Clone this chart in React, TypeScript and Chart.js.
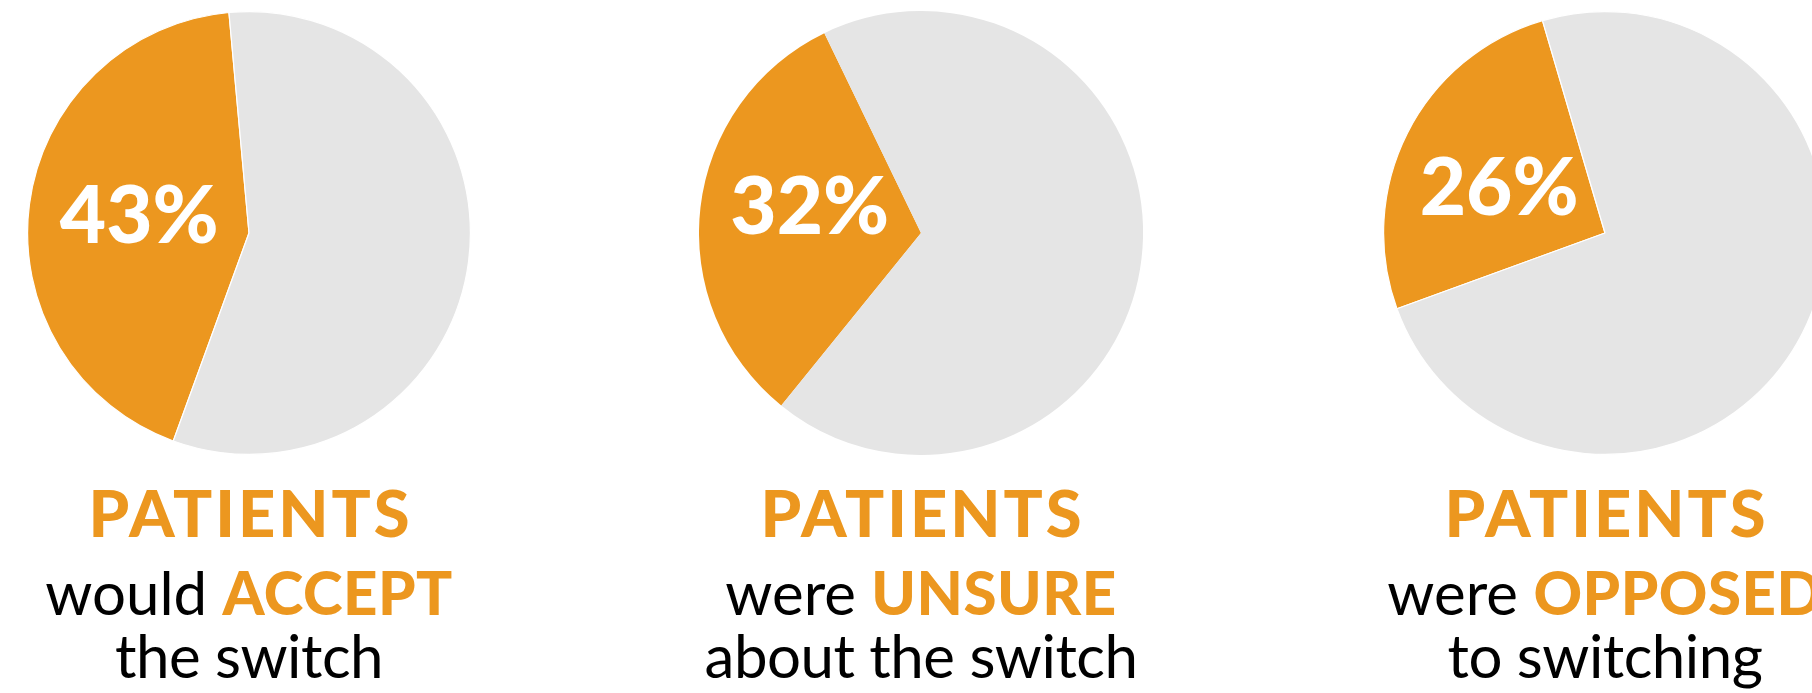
import React, { useEffect, useRef } from "react";
import { Chart, registerables } from "chart.js";

Chart.register(...registerables);

// ---- data ----
const sliceNames = ["Patients", "Others"];
const acceptValues = [43, 57];
const unsureValues = [32, 68];
const opposedValues = [26, 74];
const percentLabels = ["43%", "32%", "26%"];
const headline = "PATIENTS";
const verbs = ["would", "were", "were"];
const keywords = ["ACCEPT", "UNSURE", "OPPOSED"];
const tails = ["the switch", "about the switch", "to switching"];

const ORANGE = "#EC971F";
const GREY = "#E5E5E5";
const FONT = "Lato, 'Open Sans', sans-serif";

const SIZE = 444;
const CY = 232.5;

const panels = [
  { values: acceptValues, cx: 249, rotation: -160, border: 1.2, dx: 0, dy: 24 },
  { values: unsureValues, cx: 921, rotation: -141, border: 0, dx: -1, dy: 14 },
  { values: opposedValues, cx: 1605, rotation: -110, border: 1.2, dx: -7, dy: 32 },
];

const pctLabelPlugin = {
  id: "pctLabel",
  afterDatasetsDraw(chart: any, _args: any, opts: any) {
    const arc = chart.getDatasetMeta(0).data[0];
    if (!arc) return;
    const p = arc.tooltipPosition(false);
    const ctx = chart.ctx;
    ctx.save();
    ctx.font = `900 80px ${FONT}`;
    ctx.fillStyle = "#ffffff";
    ctx.textAlign = "center";
    ctx.textBaseline = "alphabetic";
    ctx.fillText(opts.text, p.x + opts.dx, p.y + opts.dy);
    ctx.restore();
  },
};

function Pie({ idx }: { idx: number }) {
  const ref = useRef<HTMLCanvasElement | null>(null);
  const panel = panels[idx];
  useEffect(() => {
    if (!ref.current) return;
    const chart = new Chart(ref.current, {
      type: "pie",
      data: {
        labels: sliceNames,
        datasets: [
          {
            data: panel.values,
            backgroundColor: [ORANGE, GREY],
            borderColor: "#ffffff",
            borderWidth: panel.border,
            hoverOffset: 0,
          },
        ],
      },
      options: {
        responsive: false,
        maintainAspectRatio: false,
        animation: false,
        rotation: panel.rotation,
        layout: { padding: 0 },
        events: [],
        plugins: {
          legend: { display: false },
          tooltip: { enabled: false },
          pctLabel: { text: percentLabels[idx], dx: panel.dx, dy: panel.dy },
        } as any,
      },
      plugins: [pctLabelPlugin],
    });
    return () => chart.destroy();
  }, []);
  return (
    <canvas
      ref={ref}
      width={SIZE}
      height={SIZE}
      style={{
        position: "absolute",
        left: panel.cx - SIZE / 2,
        top: CY - SIZE / 2,
        width: SIZE,
        height: SIZE,
      }}
    />
  );
}

function Caption({ idx }: { idx: number }) {
  const cx = panels[idx].cx;
  const lineStyle = (top: number, size: number): React.CSSProperties => ({
    position: "absolute",
    left: cx - 350,
    width: 700,
    top,
    textAlign: "center",
    whiteSpace: "nowrap",
    fontFamily: FONT,
    fontSize: size,
    lineHeight: 1,
    color: "#000",
  });
  return (
    <>
      <div
        style={{
          ...lineStyle(538 - 0.887 * 65, 65),
          color: ORANGE,
          fontWeight: 900,
          letterSpacing: "3px",
          textIndent: "3px",
        }}
      >
        {headline}
      </div>
      <div style={lineStyle(615 - 0.887 * 60, 60)}>
        <span style={{ fontWeight: 400 }}>{verbs[idx]} </span>
        <span style={{ fontWeight: 900, color: ORANGE, letterSpacing: "0.5px" }}>{keywords[idx]}</span>
      </div>
      <div style={{ ...lineStyle(678 - 0.887 * 60, 60), fontWeight: 400, letterSpacing: "-0.5px" }}>{tails[idx]}</div>
    </>
  );
}

export default function App() {
  return (
    <div
      style={{
        position: "absolute",
        left: 0,
        top: 0,
        width: 1812,
        height: 693,
        overflow: "hidden",
        background: "#ffffff",
      }}
    >
      {panels.map((_, i) => (
        <Pie key={"p" + i} idx={i} />
      ))}
      {panels.map((_, i) => (
        <Caption key={"c" + i} idx={i} />
      ))}
    </div>
  );
}
